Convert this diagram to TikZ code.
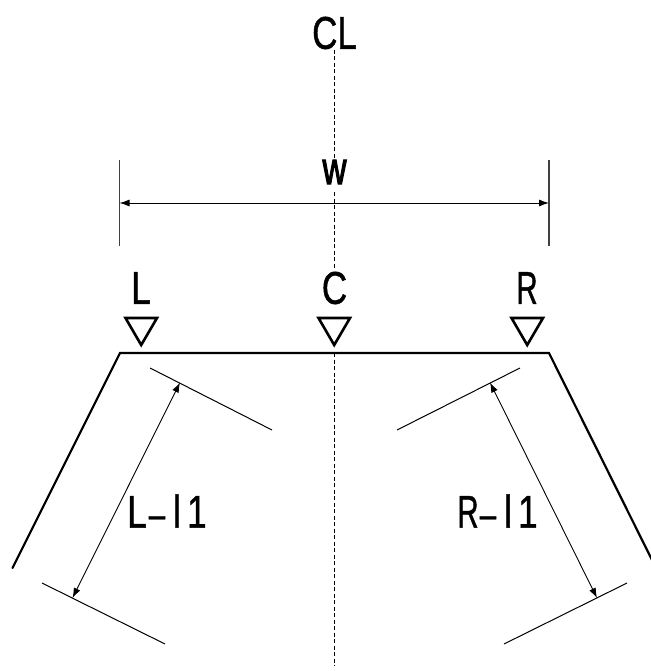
\documentclass[tikz,border=0pt]{standalone}
\usepackage{fontspec}
\setmainfont{Liberation Sans}
\usetikzlibrary{arrows.meta}
\newfontfamily\narrowfont[FakeStretch=0.76,FakeBold=0.9]{Liberation Sans}
\newfontfamily\boldnarrowfont[FakeStretch=0.72,FakeBold=2.2]{Liberation Sans}
\newcommand{\cellchar}[1]{\makebox[20pt][c]{#1}}
\newcommand{\widedash}{\cellchar{\scalebox{1.9}[0.8]{-}}}
\newcommand{\slimR}{\scalebox{0.84}[1]{R}}
\tikzset{
  lab/.style={inner sep=0pt,font=\fontsize{46pt}{46pt}\selectfont\narrowfont,text=black},
  boldlab/.style={inner sep=0pt,font=\fontsize{46pt}{46pt}\selectfont\boldnarrowfont,text=black},
  thin line/.style={draw=black,line width=1pt},
  grey line/.style={draw=black!75,line width=1.2pt},
  body/.style={draw=black,line width=2.2pt,line cap=round,line join=miter},
  center line/.style={draw=black,line width=0.9pt,dash pattern=on 4pt off 2.5pt},
  marker/.style={draw=black,line width=2.6pt,line join=miter},
  dim/.style={draw=black,line width=0.9pt,{Latex[length=10pt,width=7pt]}-{Latex[length=10pt,width=7pt]}},
}
\begin{document}
\begin{tikzpicture}[x=1pt,y=-1pt]
\useasboundingbox (0,0) rectangle (650,671);
% coordinates
\coordinate (clTop) at (334.5,50);
\coordinate (clA) at (334.5,160);
\coordinate (clB) at (334.5,192);
\coordinate (clC) at (334.5,268);
\coordinate (clD) at (334.5,353);
\coordinate (clE) at (334.5,666);
\coordinate (pl) at (120,353);
\coordinate (pr) at (549,353);
\coordinate (el) at (12.5,568);
\coordinate (er) at (656,568);
\coordinate (wa) at (119.5,203);
\coordinate (wb) at (549,203);
\coordinate (wat) at (119.5,160);
\coordinate (wab) at (119.5,246);
\coordinate (wbt) at (549,160);
\coordinate (wbb) at (549,246);
\coordinate (lu1) at (150,368);
\coordinate (lu2) at (272,430);
\coordinate (ll1) at (42,583);
\coordinate (ll2) at (165,644);
\coordinate (ru1) at (520,368);
\coordinate (ru2) at (397,430);
\coordinate (rl1) at (627,583);
\coordinate (rl2) at (504,644);
\coordinate (la) at (180,382.5);
\coordinate (lb) at (72.5,598);
\coordinate (ra) at (490,382.5);
\coordinate (rb) at (597,598);
% centre line
\draw[center line] (clTop) -- (clA) (clB) -- (clC) (clD) -- (clE);
% body
\draw[body] (el) -- (pl) -- (pr) -- (er);
% width dimension
\draw[grey line] (wat) -- (wab);
\draw[grey line] (wbt) -- (wbb);
\draw[dim] (wa) -- (wb);
% length dimensions
\draw[thin line] (lu1) -- (lu2);
\draw[thin line] (ll1) -- (ll2);
\draw[thin line] (ru1) -- (ru2);
\draw[thin line] (rl1) -- (rl2);
\draw[dim] (la) -- (lb);
\draw[dim] (ra) -- (rb);
% markers
\draw[marker] (125.5,318) -- (157,318) -- (141.2,345) -- cycle;
\draw[marker] (318.5,318) -- (350,318) -- (334.2,345) -- cycle;
\draw[marker] (511.5,318) -- (543,318) -- (527.2,345) -- cycle;
% labels
\node[lab] (cl) at (334.5,33) {CL};
\node[boldlab] (w) at (334.5,172) {w};
\node[lab] (l) at (141,288) {L};
\node[lab] (c) at (334.5,288) {C};
\node[lab] (r) at (527,288) {\slimR};
\node[lab] (ll) at (167,511) {\cellchar{L}\widedash\cellchar{l}\cellchar{1}};
\node[lab] (rl) at (498,511) {\cellchar{\slimR}\widedash\cellchar{l}\cellchar{1}};
\end{tikzpicture}
\end{document}
